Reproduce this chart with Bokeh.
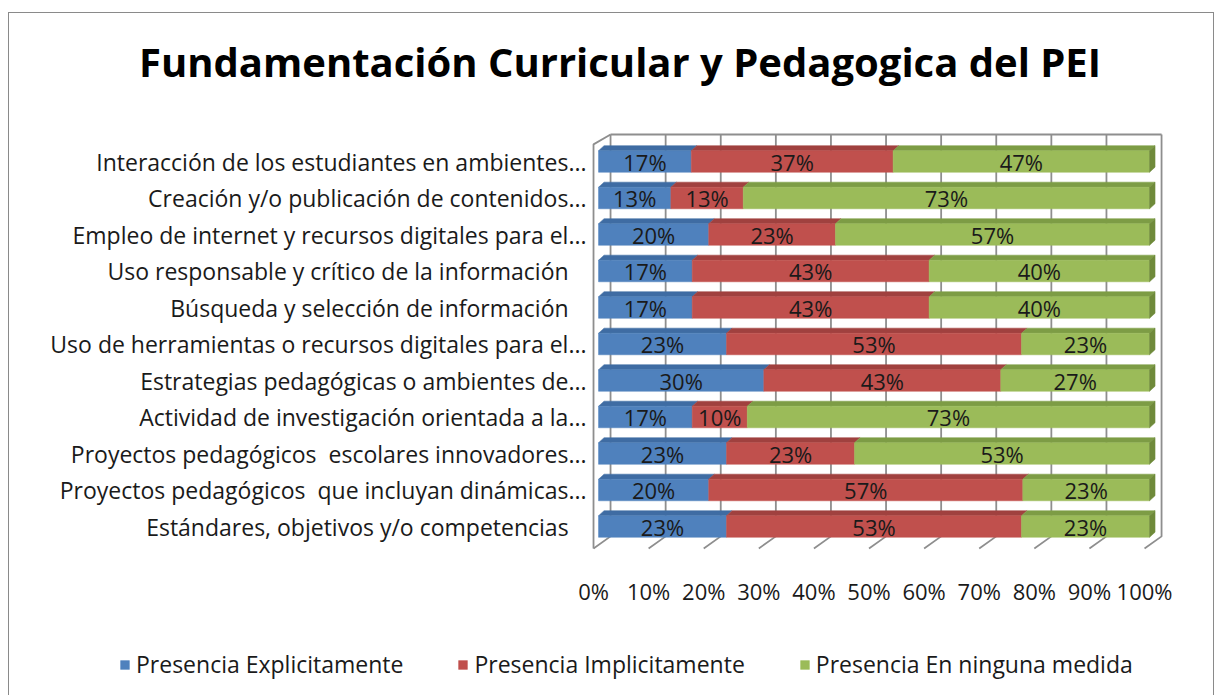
from bokeh.plotting import figure
from bokeh.models import Range1d, ColumnDataSource, Legend, LegendItem, Label
from bokeh.embed import file_html
from bokeh.resources import INLINE
from bokeh.core.properties import value

# ---------------- data ----------------
title_text = "Fundamentación Curricular y Pedagogica del PEI"
categories = [
    "Interacción de los estudiantes en ambientes...",
    "Creación y/o publicación de contenidos...",
    "Empleo de internet y recursos digitales para el...",
    "Uso responsable y crítico de la información\u00a0\u00a0\u00a0",
    "Búsqueda y selección de información\u00a0\u00a0\u00a0",
    "Uso de herramientas o recursos digitales para el...",
    "Estrategias pedagógicas o ambientes de...",
    "Actividad de investigación orientada a la...",
    "Proyectos pedagógicos\u00a0 escolares innovadores...",
    "Proyectos pedagógicos\u00a0 que incluyan dinámicas...",
    "Estándares, objetivos y/o competencias\u00a0\u00a0\u00a0",
]
explicito = [17, 13, 20, 17, 17, 23, 30, 17, 23, 20, 23]
implicito = [37, 13, 23, 43, 43, 53, 43, 10, 23, 57, 53]
ninguna = [47, 73, 57, 40, 40, 23, 27, 73, 53, 23, 23]
series_names = ["Presencia Explicitamente", "Presencia Implicitamente", "Presencia En ninguna medida"]
x_ticks = [0, 10, 20, 30, 40, 50, 60, 70, 80, 90, 100]
x_tick_labels = ["0%", "10%", "20%", "30%", "40%", "50%", "60%", "70%", "80%", "90%", "100%"]

# ---------------- style ----------------
FONT = "Open Sans"
front_colors = ["#4F81BD", "#C0504D", "#9BBB59"]
top_colors = ["#3F6CA3", "#A0413F", "#7D9C45"]
side_color = "#6F8A3A"
grid_color = "#8E8E8E"
text_color = "#1a1a1a"
bar_h = 0.59
dxb, dyb = 1.0, 0.14           # bar depth offsets
fx, bx = -0.91, 2.18           # floor front / back wall x shift
yf, yb, ytop, yleft = -0.60, -0.27, 10.74, 10.47
cat_x = -2.18                  # right edge of category labels
tick_y = -1.78                 # row of percentage tick labels
title_x, title_y = 3.9, 12.74

n = len(categories)
ys = [n - 1 - i for i in range(n)]

# the frame covers the whole chart area (page x 8..1214, y 12..698)
p = figure(
    width=1206, height=686,
    x_range=Range1d(-106.9, 111.97), y_range=Range1d(-4.739, 14.055),
    output_backend="svg", toolbar_location=None,
    min_border=0, x_axis_type=None, y_axis_type=None,
)
p.margin = (12, 0, 0, 8)
p.styles = {"border": "1.5px solid #8a8a8a"}
p.outline_line_color = None
p.background_fill_color = "white"

# title
p.add_layout(Label(x=title_x, y=title_y, text=title_text, text_align="center",
                   text_baseline="alphabetic", text_font=FONT, text_font_size="40px",
                   text_font_style="bold", text_color="#000000"))

# walls / gridlines
gx, gy = [], []
for v in x_ticks:
    gx.append([v + fx, v + bx, v + bx]); gy.append([yf, yb, ytop])
p.multi_line(gx, gy, line_color=grid_color, line_width=1.8)
p.multi_line([[fx, fx, bx], [bx, 100 + bx]], [[yf, yleft, ytop], [ytop, ytop]],
             line_color=grid_color, line_width=1.8)

# bars
vals = [explicito, implicito, ninguna]
totals = [sum(v[i] for v in vals) for i in range(n)]
lefts = [0.0] * n
renderers = []
for s in range(3):
    left = list(lefts)
    right = [lefts[i] + vals[s][i] * 100.0 / totals[i] for i in range(n)]
    lefts = right
    src = ColumnDataSource(dict(
        left=left, right=right, bottom=[y - bar_h / 2 for y in ys], top=[y + bar_h / 2 for y in ys],
        tx=[[l, l + dxb, r + dxb, r] for l, r in zip(left, right)],
        ty=[[y + bar_h / 2, y + bar_h / 2 + dyb, y + bar_h / 2 + dyb, y + bar_h / 2] for y in ys],
        cx=[(l + r) / 2 for l, r in zip(left, right)], cy=ys,
        lab=[f"{v}%" for v in vals[s]],
    ))
    p.patches("tx", "ty", source=src, fill_color=top_colors[s], line_color=top_colors[s], line_width=0.5)
    r = p.quad(left="left", right="right", bottom="bottom", top="top", source=src,
               fill_color=front_colors[s], line_color=front_colors[s], line_width=0.5)
    renderers.append(r)
    if s == 2:
        sx = [[100, 100 + dxb, 100 + dxb, 100] for y in ys]
        sy = [[y - bar_h / 2, y - bar_h / 2 + dyb, y + bar_h / 2 + dyb, y + bar_h / 2] for y in ys]
        p.patches(sx, sy, fill_color=side_color, line_color=side_color, line_width=0.5)
    p.text("cx", "cy", text="lab", source=src, text_align="center", text_baseline="middle",
           text_font=value(FONT), text_font_size="22px", text_color=text_color)

# category axis labels
cat_src = ColumnDataSource(dict(x=[cat_x] * n, y=ys, t=categories))
p.text("x", "y", text="t", source=cat_src, text_align="right", text_baseline="middle",
       text_font=value(FONT), text_font_size="23px", text_color=text_color)

# percentage axis labels (at the front edge of the floor)
tick_src = ColumnDataSource(dict(x=[v + fx for v in x_ticks], y=[tick_y] * len(x_ticks), t=x_tick_labels))
p.text("x", "y", text="t", source=tick_src, text_align="center", text_baseline="middle",
       text_font=value(FONT), text_font_size="22px", text_color=text_color)

legend = Legend(items=[LegendItem(label=series_names[i], renderers=[renderers[i]]) for i in range(3)],
                orientation="horizontal", location=(110, 19),
                glyph_width=11, glyph_height=11, label_standoff=6, spacing=54,
                padding=0, margin=0, border_line_color=None, background_fill_alpha=0,
                label_text_font=FONT, label_text_font_size="23px", label_text_color=text_color)
p.add_layout(legend, "center")

open("out.html", "w").write(file_html(p, INLINE))
